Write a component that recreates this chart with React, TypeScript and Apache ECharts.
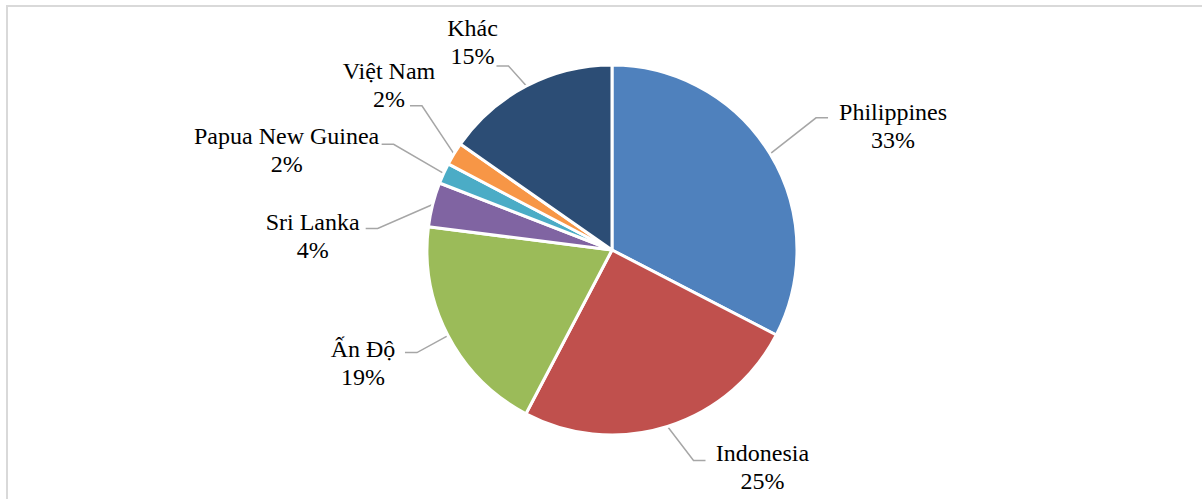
import React, { useEffect, useRef } from "react";
import * as echarts from "echarts";

const categories = ["Philippines", "Indonesia", "Ấn Độ", "Sri Lanka", "Papua New Guinea", "Việt Nam", "Khác"];
const shares = [32.6, 25.1, 19.3, 3.9, 1.8, 2.0, 15.3];
const colors = ["#4F81BD", "#C0504D", "#9BBB59", "#8064A2", "#4BACC6", "#F79646", "#2C4D75"];

// label layout styling: label-block centre relative to the slice's leader-line anchor,
// and the leader line's end relative to the label-block centre
const labelOffsets: [number, number][] = [
  [123, -28],
  [95, 41],
  [-85, 27],
  [-120, 31],
  [-157, -23],
  [-65, -69],
  [-54, -44],
];
const leaderEnds: [number, number][] = [
  [-65, -8],
  [-57, -7],
  [42, -10],
  [53, -7],
  [95, -6],
  [21, 21],
  [24, 24],
];
const leaderFoot = 12;

export default function App() {
  const ref = useRef<HTMLDivElement>(null);
  useEffect(() => {
    if (!ref.current) return;
    const chart = echarts.init(ref.current, null, { renderer: "svg" });
    const data = categories.map((name, i) => ({
      name,
      value: shares[i],
      itemStyle: { color: colors[i] },
    }));
    chart.setOption({
      animation: false,
      backgroundColor: "#ffffff",
      textStyle: { fontFamily: "'Liberation Serif', 'Times New Roman', serif" },
      graphic: [
        {
          type: "rect",
          shape: { x: 7, y: 6, width: 1300, height: 600 },
          style: { fill: "none", stroke: "#d9d9d9", lineWidth: 2 },
          silent: true,
        },
      ],
      series: [
        {
          type: "pie",
          center: [612, 250],
          radius: [0, 185],
          startAngle: 90,
          clockwise: true,
          avoidLabelOverlap: false,
          itemStyle: { borderColor: "#ffffff", borderWidth: 3 },
          label: {
            show: true,
            position: "outside",
            fontFamily: "'Liberation Serif', 'Times New Roman', serif",
            fontSize: 24,
            lineHeight: 28,
            color: "#000000",
            formatter: (p: any) => `${p.name}\n${Math.round(p.percent)}%`,
          },
          labelLine: {
            show: true,
            length: 40,
            length2: 11,
            lineStyle: { color: "#a6a6a6", width: 1.5 },
          },
          labelLayout: (p: any) => {
            const a = p.labelLinePoints ? p.labelLinePoints[0] : [0, 0];
            const o = labelOffsets[p.dataIndex];
            const e = leaderEnds[p.dataIndex];
            const cx = a[0] + o[0];
            const cy = a[1] + o[1];
            const end = [cx + e[0], cy + e[1]];
            const side = o[0] >= 0 ? -1 : 1;
            const elbow = [end[0] + side * leaderFoot, end[1]];
            return {
              x: cx,
              y: cy,
              align: "center",
              verticalAlign: "middle",
              labelLinePoints: [[a[0], a[1]], elbow, end],
            };
          },
          data,
        },
      ],
    });
    return () => chart.dispose();
  }, []);
  return (
    <div
      ref={ref}
      style={{ position: "absolute", left: 0, top: 0, width: 1202, height: 499 }}
    />
  );
}
